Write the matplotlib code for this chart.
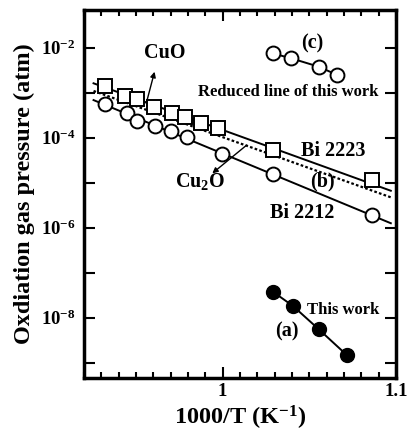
import numpy as np
import matplotlib; matplotlib.use("Agg")
import matplotlib.pyplot as plt
from matplotlib.ticker import FixedLocator, MultipleLocator, FuncFormatter

plt.rcParams.update({"font.family": "Liberation Serif", "font.weight": "bold",
                     "mathtext.fontset": "custom", "mathtext.rm": "Liberation Serif:bold",
                     "mathtext.default": "rm"})

# Bi 2223 (open squares)
x_2223 = [0.9323, 0.9439, 0.9507, 0.9603, 0.9710, 0.9781, 0.9874, 0.9975, 1.0290, 1.0861]
y_2223 = [-2.852, -3.067, -3.148, -3.326, -3.444, -3.533, -3.681, -3.793, -4.274, -4.941]
# Bi 2212 (open circles)
x_2212 = [0.9323, 0.9449, 0.9507, 0.9607, 0.9704, 0.9797, 0.9994, 1.0290, 1.0861]
y_2212 = [-3.259, -3.459, -3.622, -3.741, -3.852, -3.978, -4.363, -4.807, -5.719]
# (c) reduced line of this work
x_c = [1.0290, 1.0397, 1.0555, 1.0662]
y_c = [-2.126, -2.237, -2.422, -2.607]
# (a) this work
x_a = [1.0290, 1.0406, 1.0555, 1.0716]
y_a = [-7.422, -7.741, -8.259, -8.830]
# fitted lines (log10 pressure at ends)
line_x = [0.9255, 1.097]
line_2223 = [-2.79, -5.178]
line_b = [-2.96, -5.324]
line_2212 = [-3.163, -5.90]

p = lambda v: 10.0 ** np.asarray(v)

fig = plt.figure(figsize=(4.07, 4.33), dpi=100)
ax = fig.add_axes([0.2064, 0.127, 0.7666, 0.850])
ax.set_yscale("log")

ax.plot(line_x, p(line_2223), color="k", lw=1.4)
ax.plot(line_x, p(line_b), color="k", lw=1.6, ls=(0, (1.2, 1.0)))
ax.plot(line_x, p(line_2212), color="k", lw=1.4)
ax.plot(x_2223, p(y_2223), ls="none", marker="s", ms=10, mfc="white", mec="k", mew=1.4)
ax.plot(x_2212, p(y_2212), ls="none", marker="o", ms=10, mfc="white", mec="k", mew=1.4)
ax.plot(x_c, p(y_c), color="k", lw=1.4, marker="o", ms=10, mfc="white", mec="k", mew=1.4)
ax.plot(x_a, p(y_a), color="k", lw=1.4, marker="o", ms=10, mfc="k", mec="k")

ax.set_xlim(0.92, 1.1)
ax.set_ylim(10 ** -9.34, 10 ** -1.16)

ax.xaxis.set_major_locator(FixedLocator([1.0, 1.1]))
ax.xaxis.set_minor_locator(MultipleLocator(0.01))
ax.xaxis.set_major_formatter(FuncFormatter(lambda v, _: f"{v:g}"))
ax.yaxis.set_major_locator(FixedLocator([10.0 ** e for e in range(-9, -1)]))
ax.yaxis.set_minor_locator(FixedLocator([]))
ax.yaxis.set_major_formatter(FuncFormatter(
    lambda v, _: f"$10^{{{int(round(np.log10(v)))}}}$" if int(round(np.log10(v))) % 2 == 0 else ""))
ax.tick_params(which="both", direction="in", top=True, right=True, labelsize=13.5, width=1.5)
ax.tick_params(which="major", length=8)
ax.tick_params(which="minor", length=4)
ax.tick_params(axis="y", pad=6)
for s in ax.spines.values():
    s.set_linewidth(2.5)

ax.set_xlabel("1000/T (K$^{-1}$)", fontsize=17.5, fontweight="bold", labelpad=3)
ax.set_ylabel("Oxdiation gas pressure (atm)", fontsize=17.5, fontweight="bold", labelpad=4)

tk = dict(ha="center", va="center", fontweight="bold")
ax.text(0.9665, p(-2.118), "CuO", fontsize=14.5, **tk)
ax.text(0.9868, p(-4.978), "Cu$_2$O", fontsize=14.5, **tk)
ax.text(1.0379, p(-2.984), "Reduced line of this work", fontsize=12, **tk)
ax.text(1.0517, p(-1.902), "(c)", fontsize=14.5, **tk)
ax.text(1.0640, p(-4.289), "Bi 2223", fontsize=14.5, **tk)
ax.text(1.0575, p(-4.978), "(b)", fontsize=14.5, **tk)
ax.text(1.0459, p(-5.667), "Bi 2212", fontsize=14.5, **tk)
ax.text(1.0698, p(-7.829), "This work", fontsize=12, **tk)
ax.text(1.0373, p(-8.311), "(a)", fontsize=14.5, **tk)

arrow = dict(arrowstyle="-|>", color="k", lw=1.0, mutation_scale=8, shrinkA=0, shrinkB=0)
ax.annotate("", xy=(0.9607, p(-2.533)), xytext=(0.9559, p(-3.236)), arrowprops=arrow)
ax.annotate("", xy=(0.9940, p(-4.791)), xytext=(1.0139, p(-4.162)), arrowprops=arrow)

fig.savefig("out.png", dpi=100)
